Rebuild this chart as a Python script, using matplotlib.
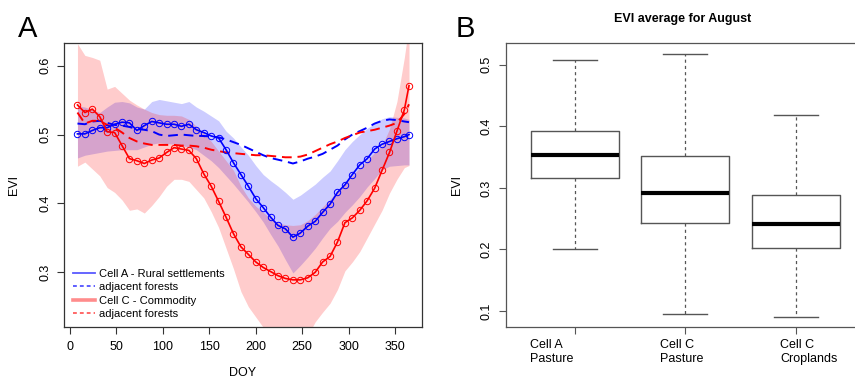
import matplotlib.pyplot as plt
from matplotlib.lines import Line2D
from matplotlib.transforms import blended_transform_factory

plt.rcParams["font.family"] = ["Liberation Sans", "DejaVu Sans"]
plt.rcParams["font.size"] = 9

# ---- panel A data (8-day EVI composites) ----
doy = [8, 16, 24, 32, 40, 48, 56, 64, 72, 80, 88, 96, 104, 112, 120, 128,
       136, 144, 152, 160, 168, 176, 184, 192, 200, 208, 216, 224, 232, 240,
       248, 256, 264, 272, 280, 288, 296, 304, 312, 320, 328, 336, 344, 352,
       360, 365]

cellA = [0.501, 0.501, 0.506, 0.510, 0.510, 0.515, 0.518, 0.517, 0.506, 0.513,
         0.519, 0.517, 0.515, 0.515, 0.512, 0.515, 0.507, 0.503, 0.498, 0.495,
         0.478, 0.459, 0.442, 0.425, 0.407, 0.394, 0.380, 0.368, 0.363, 0.351,
         0.357, 0.367, 0.374, 0.387, 0.399, 0.416, 0.427, 0.442, 0.456, 0.465,
         0.479, 0.486, 0.490, 0.494, 0.497, 0.500]
cellA_hi = [0.542, 0.540, 0.536, 0.532, 0.540, 0.547, 0.548, 0.546, 0.540, 0.537,
            0.548, 0.551, 0.549, 0.547, 0.545, 0.548, 0.540, 0.534, 0.527, 0.520,
            0.505, 0.495, 0.482, 0.470, 0.455, 0.442, 0.433, 0.425, 0.416, 0.406,
            0.412, 0.420, 0.428, 0.438, 0.447, 0.462, 0.478, 0.490, 0.500, 0.509,
            0.516, 0.523, 0.526, 0.525, 0.524, 0.522]
cellA_lo = [0.466, 0.470, 0.472, 0.474, 0.476, 0.477, 0.478, 0.478, 0.478, 0.482,
            0.486, 0.488, 0.487, 0.486, 0.484, 0.482, 0.478, 0.470, 0.462, 0.452,
            0.440, 0.428, 0.415, 0.402, 0.388, 0.373, 0.355, 0.338, 0.318, 0.299,
            0.310, 0.322, 0.335, 0.350, 0.364, 0.374, 0.387, 0.398, 0.410, 0.424,
            0.436, 0.449, 0.454, 0.455, 0.456, 0.456]
forestA = [0.516, 0.515, 0.519, 0.520, 0.517, 0.514, 0.513, 0.511, 0.508, 0.507,
           0.505, 0.500, 0.498, 0.499, 0.500, 0.499, 0.498, 0.498, 0.497, 0.496,
           0.493, 0.489, 0.485, 0.480, 0.475, 0.470, 0.466, 0.4635, 0.461, 0.458,
           0.461, 0.465, 0.468, 0.472, 0.478, 0.484, 0.493, 0.500, 0.505, 0.510,
           0.516, 0.520, 0.522, 0.521, 0.519, 0.518]

cellC = [0.543, 0.532, 0.537, 0.526, 0.504, 0.503, 0.484, 0.465, 0.462, 0.458,
         0.463, 0.466, 0.474, 0.481, 0.479, 0.477, 0.465, 0.443, 0.425, 0.403,
         0.380, 0.356, 0.337, 0.326, 0.315, 0.307, 0.301, 0.295, 0.291, 0.289,
         0.289, 0.292, 0.300, 0.315, 0.323, 0.344, 0.372, 0.379, 0.390, 0.404,
         0.422, 0.448, 0.474, 0.505, 0.536, 0.571]
cellC_hi = [0.632, 0.615, 0.612, 0.608, 0.566, 0.570, 0.560, 0.550, 0.543, 0.537,
            0.532, 0.529, 0.528, 0.528, 0.527, 0.522, 0.512, 0.502, 0.490, 0.476,
            0.462, 0.448, 0.425, 0.408, 0.396, 0.387, 0.378, 0.372, 0.369, 0.368,
            0.369, 0.375, 0.384, 0.395, 0.406, 0.418, 0.428, 0.440, 0.452, 0.462,
            0.474, 0.484, 0.508, 0.548, 0.612, 0.660]
cellC_lo = [0.454, 0.460, 0.450, 0.440, 0.423, 0.416, 0.405, 0.390, 0.392, 0.386,
            0.397, 0.410, 0.425, 0.435, 0.435, 0.432, 0.420, 0.408, 0.388, 0.365,
            0.335, 0.305, 0.272, 0.250, 0.235, 0.220, 0.210, 0.200, 0.195, 0.190,
            0.195, 0.208, 0.228, 0.242, 0.255, 0.275, 0.302, 0.315, 0.330, 0.350,
            0.370, 0.390, 0.415, 0.435, 0.452, 0.455]
forestC = [0.532, 0.516, 0.520, 0.520, 0.514, 0.510, 0.503, 0.495, 0.490, 0.487,
           0.485, 0.485, 0.485, 0.485, 0.484, 0.484, 0.483, 0.481, 0.478, 0.476,
           0.474, 0.473, 0.472, 0.471, 0.470, 0.470, 0.469, 0.468, 0.467, 0.467,
           0.468, 0.471, 0.476, 0.481, 0.486, 0.490, 0.495, 0.499, 0.503, 0.505,
           0.507, 0.510, 0.513, 0.517, 0.530, 0.544]

legend_labels = ["Cell A - Rural settlements", "adjacent forests",
                 "Cell C - Commodity", "adjacent forests"]

# ---- panel B data (August EVI boxplots) ----
box_labels = ["Cell A\nPasture", "Cell C\nPasture", "Cell C\nCroplands"]
whislo = [0.200, 0.0946, 0.0907]
q1 = [0.3158, 0.2426, 0.2024]
med = [0.3532, 0.2914, 0.2410]
q3 = [0.3925, 0.3525, 0.2886]
whishi = [0.5077, 0.5180, 0.4187]

fig = plt.figure(figsize=(8.55, 3.79), dpi=100)
W, H = 855, 379

def px_axes(left, top, right, bottom):
    return fig.add_axes([left / W, 1 - bottom / H, (right - left) / W, (bottom - top) / H])

# ===== Panel A =====
ax = px_axes(64, 43, 422, 327)
ax.fill_between(doy, cellA_lo, cellA_hi, color=(0, 0, 1, 0.2), lw=0)
ax.fill_between(doy, cellC_lo, cellC_hi, color=(1, 0, 0, 0.2), lw=0)
ax.plot(doy, forestA, color="blue", lw=1.4, ls=(0, (5, 3)))
ax.plot(doy, forestC, color="red", lw=1.4, ls=(0, (5, 3)))
ax.plot(doy, cellA, color="blue", lw=1.2, marker="o", ms=4.6, mfc="none", mew=0.7)
ax.plot(doy, cellC, color="red", lw=1.2, marker="o", ms=4.6, mfc="none", mew=0.7)

ax.set_xlim(-6.5, 379)
ax.set_ylim(0.2205, 0.633)
ax.set_xticks([0, 50, 100, 150, 200, 250, 300, 350])
ax.set_yticks([0.3, 0.4, 0.5, 0.6])
ax.set_yticklabels(["0.3", "0.4", "0.5", "0.6"], rotation=90, va="center")
ax.tick_params(length=5, width=0.8, color="#333333", pad=5)
ax.tick_params(axis="y", pad=4)
for s in ax.spines.values():
    s.set_linewidth(0.9)
    s.set_color("#333333")
ax.set_xlabel("DOY", fontsize=9, labelpad=10)
ax.set_ylabel("EVI", fontsize=9, labelpad=14)

handles = [
    Line2D([], [], color=(0.35, 0.35, 1.0), lw=1.3),
    Line2D([], [], color=(0.2, 0.2, 1.0), lw=1.1, ls=(0, (2.5, 2))),
    Line2D([], [], color=(1.0, 0.55, 0.55), lw=2.6),
    Line2D([], [], color=(1.0, 0.25, 0.25), lw=1.1, ls=(0, (2.5, 2))),
]
ax.legend(handles, legend_labels, loc="lower left", bbox_to_anchor=(0.025, 0.028),
          frameon=False, fontsize=8, handlelength=2.0, handletextpad=0.35,
          labelspacing=0.3, borderpad=0, borderaxespad=0)

fig.text(18 / W, 1 - 29 / H, "A", fontsize=21, va="center", ha="left")

# ===== Panel B =====
bx = px_axes(506, 43.3, 860, 326.7)
stats = []
for i in range(3):
    stats.append(dict(whislo=whislo[i], q1=q1[i], med=med[i], q3=q3[i],
                      whishi=whishi[i], fliers=[]))
bx.bxp(stats, positions=[1, 2, 3], widths=0.8, capwidths=0.4, showfliers=False,
       boxprops=dict(color="#555555", lw=1.0),
       medianprops=dict(color="black", lw=3.0, solid_capstyle="butt"),
       whiskerprops=dict(color="#555555", lw=0.9, ls=(0, (2.5, 2.5))),
       capprops=dict(color="#555555", lw=1.0))
bx.set_xlim(0.375, 3.583)
bx.set_ylim(0.0745, 0.535)
bx.set_xticks([1, 2, 3])
bx.set_xticklabels(["", "", ""])
bx.set_yticks([0.1, 0.2, 0.3, 0.4, 0.5])
bx.set_yticklabels(["0.1", "0.2", "0.3", "0.4", "0.5"], rotation=90, va="center")
bx.tick_params(length=5, width=0.8, color="#555555", pad=5)
for s in bx.spines.values():
    s.set_linewidth(0.9)
    s.set_color("#555555")
bx.set_ylabel("EVI", fontsize=9, labelpad=12)
bx.set_title("EVI average for August", fontsize=9, fontweight="bold", pad=15)

trans = blended_transform_factory(bx.transData, bx.transAxes)
label_x = [0.592, 1.771, 2.858]
for lx, lab in zip(label_x, box_labels):
    bx.text(lx, -0.045, lab, transform=trans, ha="left", va="top",
            fontsize=9, linespacing=1.15)

fig.text(456 / W, 1 - 29 / H, "B", fontsize=21, va="center", ha="left")

fig.savefig("out.png", dpi=100)
